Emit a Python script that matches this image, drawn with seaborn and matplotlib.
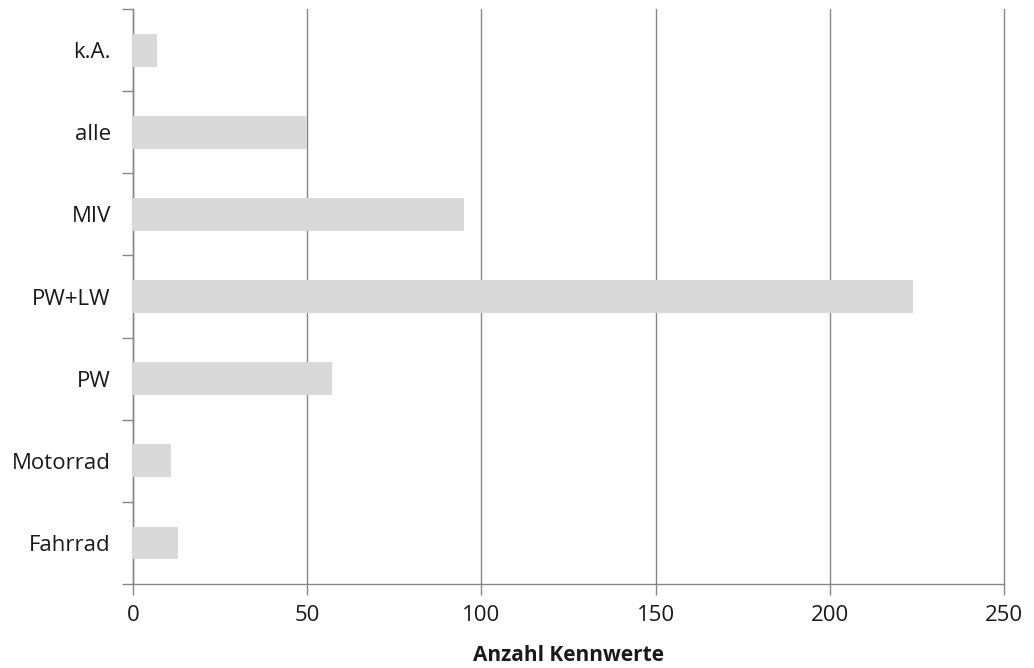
import seaborn as sns
import matplotlib.pyplot as plt
import numpy as np
import pandas as pd

kategorien = ["k.A.", "alle", "MIV", "PW+LW", "PW", "Motorrad", "Fahrrad"]
anzahl = [7, 50, 95, 224, 57, 11, 13]
x_ticks = [0, 50, 100, 150, 200, 250]

df = pd.DataFrame({"Kategorie": kategorien, "Anzahl": anzahl})

sns.set_style("white")
plt.rcParams['font.family'] = ['Open Sans', 'DejaVu Sans']

fig = plt.figure(figsize=(10.34, 6.68), dpi=100)
ax = fig.add_axes([0.1286, 0.1257, 0.8424, 0.8608])

sns.barplot(data=df, y="Kategorie", x="Anzahl", orient="h", color="#d9d9d9",
            saturation=1, width=0.4, linewidth=0, ax=ax, zorder=3)

ax.set_xlim(0, 250)
ax.set_xticks(x_ticks)
ax.set_ylim(len(kategorien) - 0.5, -0.5)
ax.xaxis.grid(True, color="#868686", linewidth=1.0, zorder=0)
ax.yaxis.grid(False)
for gl in ax.get_xgridlines():
    gl.set_clip_on(False)

for s in ["top", "right"]:
    ax.spines[s].set_visible(False)
for s in ["left", "bottom"]:
    ax.spines[s].set_color("#868686")
    ax.spines[s].set_linewidth(1.0)

ax.tick_params(axis="x", bottom=True, length=8, color="#868686", width=1.0,
               labelsize=16, labelcolor="#1a1a1a", pad=7)
ax.tick_params(axis="y", which="major", left=False, length=0,
               labelsize=16, labelcolor="#1a1a1a", pad=16)
ax.set_yticks(np.arange(-0.5, len(kategorien), 1), minor=True)
ax.tick_params(axis="y", which="minor", left=True, length=8, color="#868686", width=1.0)

ax.set_ylabel("")
ax.set_xlabel("Anzahl Kennwerte", fontsize=15, fontweight="bold", color="#1a1a1a", labelpad=14)

plt.savefig("out.png", dpi=100)
